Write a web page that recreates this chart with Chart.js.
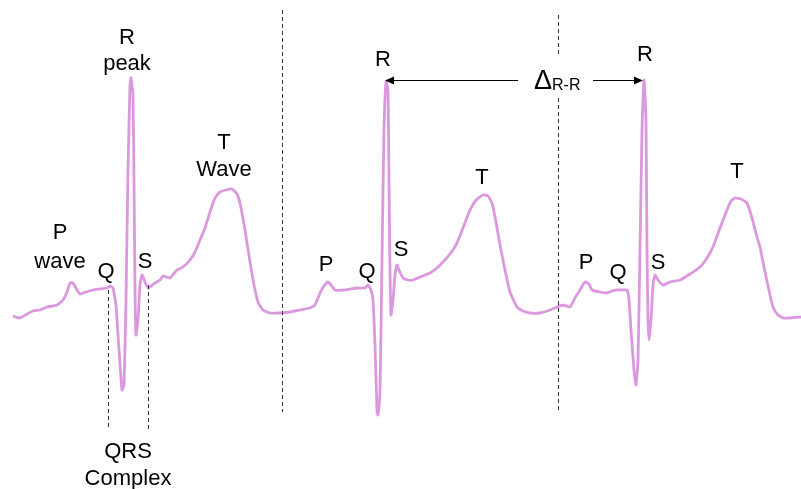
<!DOCTYPE html>
<html>
<head>
<meta charset="utf-8">
<script src="https://cdn.jsdelivr.net/npm/chart.js@4"></script>
<style>
  html, body { margin: 0; padding: 0; background: #ffffff; }
  #wrap { width: 801px; height: 489px; position: relative; }
</style>
</head>
<body>
<div id="wrap"><canvas id="ecg"></canvas></div>
<script>
// ECG trace: time (x) and amplitude (baseline = 0, up is positive)
const ecgTime = [
  13, 20, 27, 33, 40, 47, 57, 63, 67, 70, 73, 77, 80, 86, 93, 100, 107, 110, 113, 116, 119, 122, 124, 126, 128, 130, 131, 133, 134, 135, 136, 138, 140, 142, 145, 148, 155, 160, 163, 170, 177, 183, 190, 195, 200, 205, 210, 215, 220, 226, 232, 237, 240, 245, 250, 254, 258, 263, 270, 277, 282,
  290, 300, 310, 315, 320, 324, 328, 331, 335, 345, 357, 365, 368, 371, 373, 375, 377, 378, 380, 382, 384, 386, 388, 389, 390, 391, 393, 395, 397, 399, 403, 408, 413, 420, 430, 437, 443, 450, 457, 463, 470, 476, 483, 488, 492, 496, 500, 505, 510, 517, 523, 530, 540, 550, 557,
  563, 570, 575, 580, 585, 589, 592, 600, 607, 612, 617, 623, 627, 629, 631, 634, 636, 638, 640, 642, 644, 646, 647, 648, 649, 651, 653, 655, 658, 663, 670, 680, 690, 700, 707, 713, 720, 727, 731, 735, 741, 747, 752, 757, 760, 765, 770, 773, 778, 783, 790, 801
];
const ecgAmp = [
  -3, -5, -1, 2, 3, 6, 8, 13, 21, 30, 30, 23, 19, 21, 23, 24, 25, 27, 25, 8, -37, -77, -72, 13, 143, 228, 235, 218, 133, 23, -22, -7, 28, 38, 31, 25, 30, 33, 37, 35, 43, 46, 53, 61, 73, 85, 101, 115, 121, 123, 124, 119, 110, 83, 51, 28, 11, 3, 0, 0, 0,
  1, 3, 5, 8, 20, 27, 31, 28, 23, 23, 25, 25, 28, 23, 13, -32, -97, -102, -77, 53, 183, 231, 223, 133, 43, -2, 13, 38, 48, 43, 35, 33, 33, 36, 40, 45, 51, 59, 70, 85, 103, 113, 118, 117, 110, 91, 68, 43, 21, 6, 2, 0, 0, 3, 6,
  8, 6, 15, 23, 31, 29, 23, 21, 20, 22, 23, 23, 23, 13, -17, -57, -72, -47, 63, 183, 233, 193, 63, -7, -27, -7, 28, 38, 33, 28, 31, 33, 39, 46, 55, 66, 85, 103, 112, 115, 114, 110, 95, 76, 66, 41, 18, 6, -2, -5, -5, -4
];

// text labels: text, x, amplitude of the text's middle
const labelText = ['R', 'peak', 'T', 'Wave', 'P', 'wave', 'Q', 'S', 'QRS', 'Complex',
                   'R', 'P', 'Q', 'S', 'T',
                   'R', 'P', 'Q', 'S', 'T'];
const labelX = [127, 127, 224, 224, 60, 60, 106, 145, 128, 128,
                383, 326, 367, 401, 482,
                645, 586, 618, 658, 737];
const labelAmp = [275, 249, 170, 143, 80, 51, 41, 51, -139, -166,
                  253, 48, 41, 63, 135,
                  258, 50, 40, 50, 141];

// dashed markers: x, amplitude top, amplitude bottom
const markerX = [108, 148, 282, 558, 558];
const markerTop = [23, 28, 303, 298, 215];
const markerBottom = [-117, -117, -99, 258, -100];

// R-R interval arrows
const rrFrom = [518, 593];
const rrTo = [385, 643];
const rrAmp = 233;

const drawNotes = {
  id: 'drawNotes',
  afterDatasetsDraw(chart) {
    const { ctx, scales: { x, y } } = chart;
    ctx.save();

    // dashed guide lines
    ctx.strokeStyle = '#333333';
    ctx.lineWidth = 1;
    ctx.setLineDash([4, 3]);
    markerX.forEach((mx, i) => {
      const px = Math.round(x.getPixelForValue(mx)) + 0.5;
      ctx.beginPath();
      ctx.moveTo(px, y.getPixelForValue(markerTop[i]));
      ctx.lineTo(px, y.getPixelForValue(markerBottom[i]));
      ctx.stroke();
    });
    ctx.setLineDash([]);

    // arrows
    ctx.strokeStyle = '#000000';
    ctx.fillStyle = '#000000';
    const ay = Math.round(y.getPixelForValue(rrAmp)) + 0.5;
    rrFrom.forEach((fx, i) => {
      const a = x.getPixelForValue(fx);
      const b = x.getPixelForValue(rrTo[i]);
      const dir = b > a ? 1 : -1;
      ctx.beginPath();
      ctx.moveTo(a, ay);
      ctx.lineTo(b - dir * 6, ay);
      ctx.stroke();
      ctx.beginPath();
      ctx.moveTo(b, ay);
      ctx.lineTo(b - dir * 9, ay - 4);
      ctx.lineTo(b - dir * 9, ay + 4);
      ctx.closePath();
      ctx.fill();
    });

    // delta label
    ctx.textBaseline = 'middle';
    ctx.textAlign = 'left';
    ctx.font = '27px "Liberation Sans", Arial, sans-serif';
    ctx.fillText('\u0394', x.getPixelForValue(534), ay + 1);
    ctx.font = '16px "Liberation Sans", Arial, sans-serif';
    ctx.fillText('R-R', x.getPixelForValue(552), ay + 5);

    // wave labels
    ctx.textAlign = 'center';
    ctx.font = '22px "Liberation Sans", Arial, sans-serif';
    labelText.forEach((t, i) => {
      ctx.fillText(t, x.getPixelForValue(labelX[i]), y.getPixelForValue(labelAmp[i]));
    });
    ctx.restore();
  }
};

new Chart(document.getElementById('ecg'), {
  type: 'line',
  data: {
    datasets: [{
      data: ecgTime.map((t, i) => ({ x: t, y: ecgAmp[i] })),
      borderColor: '#dc98de',
      borderWidth: 2.8,
      pointRadius: 0,
      tension: 0.15,
      fill: false
    }]
  },
  options: {
    responsive: true,
    maintainAspectRatio: false,
    animation: false,
    layout: { padding: 0 },
    plugins: {
      legend: { display: false },
      tooltip: { enabled: false }
    },
    scales: {
      x: { type: 'linear', min: 0, max: 801, display: false },
      y: { type: 'linear', min: -176, max: 313, display: false }
    }
  },
  plugins: [drawNotes]
});
</script>
</body>
</html>
